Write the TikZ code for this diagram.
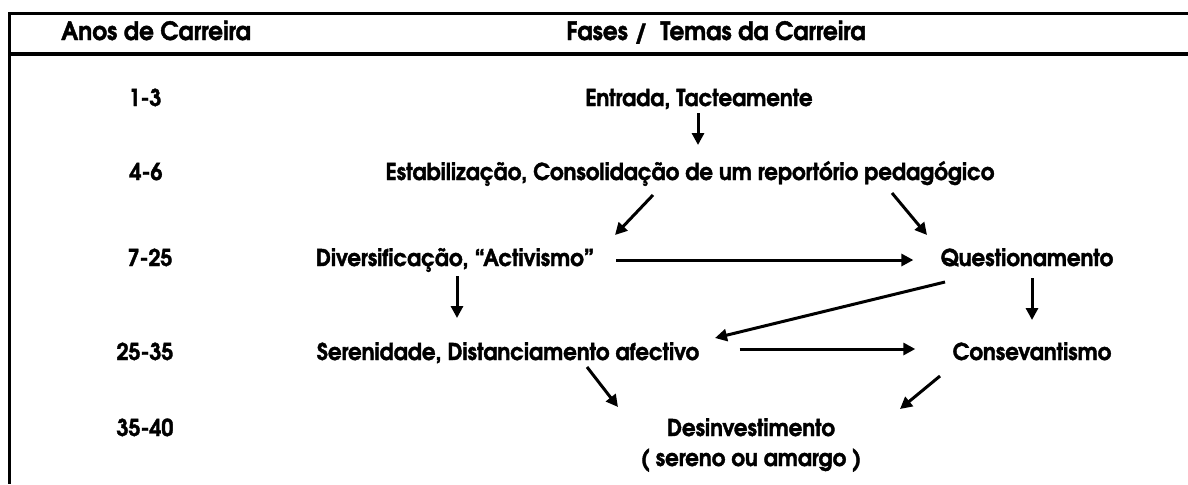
\documentclass[tikz,border=0pt]{standalone}
\usepackage{fontspec}
\setmainfont{texgyreadventor}[Extension=.otf, UprightFont=*-regular, BoldFont=*-bold, FakeStretch=0.92, BoldFeatures={FakeBold=1.6}]
\usetikzlibrary{arrows.meta, calc, positioning}

\begin{document}
\begin{tikzpicture}
	[
		x=0.5pt, y=-0.5pt,
		fase/.style={
				inner sep=0pt,
				anchor=base,
				align=center,
				font=\bfseries\fontsize{11.6}{15}\selectfont,
			},
		ano/.style={
				fase,
			},
		titulo/.style={
				fase,
				font=\bfseries\fontsize{12.6}{15}\selectfont,
			},
		seta/.style={
				-{Triangle[length=6pt,width=6pt]},
				line width=1.5pt,
			},
		moldura/.style={
				line width=1.5pt,
			},
	]
	\useasboundingbox (0,0) rectangle (1188,484);

	% moldura da tabela
	\draw [moldura] (1188,13) -- (9,13) -- (9,484);
	\draw [moldura, line width=2.4pt] (9,54) -- (1188,54);

	\node [titulo] (hAnos)  at (156,40) {Anos de Carreira};
	\node [titulo] (hFases) at (716,40) {Fases /\ \ Temas da Carreira};

	\node [ano] (a1) at (145,106) {1-3};
	\node [ano] (a2) at (146,180) {4-6};
	\node [ano] (a3) at (150,266) {7-25};
	\node [ano] (a4) at (145,360) {25-35};
	\node [ano] (a5) at (145,436) {35-40};

	\node [fase] (entrada) at (699,106)  {Entrada, Tacteamente};
	\node [fase] (estab)   at (690,180)  {Estabilização, Consolidação de um reportório pedagógico};
	\node [fase] (divers)  at (455,266)  {Diversificação, “Activismo”};
	\node [fase] (quest)   at (1027,266) {Questionamento};
	\node [fase] (seren)   at (508,360)  {Serenidade, Distanciamento afectivo};
	\node [fase] (cons)    at (1032,360) {Consevantismo};
	\node [fase] (desinv)  at (751,466)  {Desinvestimento\\( sereno ou amargo )};

	\draw [seta] ($(entrada.base)+(-1,7)$) -- ($(entrada.base |- estab.base)+(-1,-35)$);
	\draw [seta] ($(estab.base)+(-37,15)$) -- ($(divers.base)+(160,-31)$);
	\draw [seta] ($(estab.base)+(202,13)$) -- ($(quest.base)+(-100,-31)$);
	\draw [seta] ($(divers.base east)+(22,-6)$) -- ($(quest.base west)+(-27,-6)$);
	\draw [seta] ($(divers.base)+(2,10)$) -- ($(divers.base |- seren.base)+(2,-42)$);
	\draw [seta] ($(quest.base)+(5,12)$) -- ($(quest.base |- cons.base)+(5,-40)$);
	\draw [seta] ($(quest.base)+(-82,16)$) -- ($(seren.base)+(207,-22)$);
	\draw [seta] ($(seren.base east)+(40,-11)$) -- ($(cons.base west)+(-37,-11)$);
	\draw [seta] ($(seren.base)+(79,7)$) -- ($(desinv.base)+(-133,-59)$);
	\draw [seta] ($(cons.base)+(-92,16)$) -- ($(desinv.base)+(149,-57)$);
\end{tikzpicture}
\end{document}
